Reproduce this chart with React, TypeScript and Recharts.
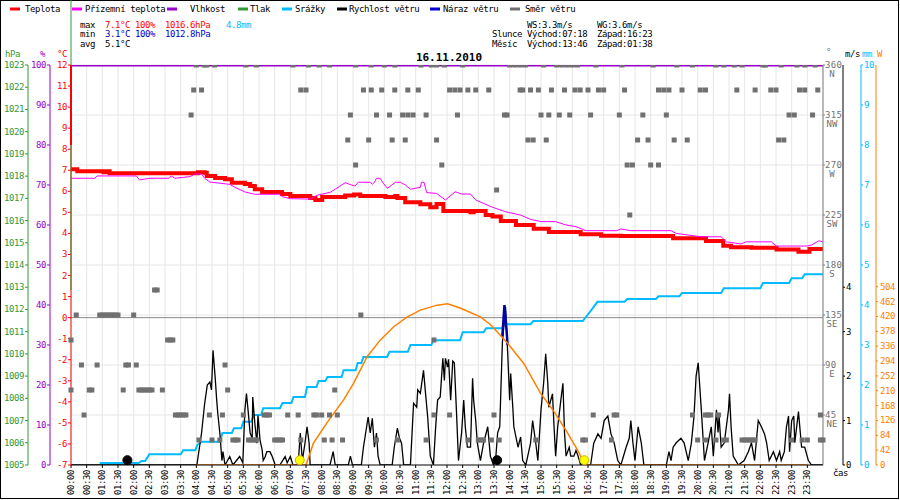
import {
  ComposedChart,
  Line,
  Scatter,
  XAxis,
  YAxis,
  CartesianGrid,
  ReferenceLine,
  ReferenceDot,
} from "recharts";

const FONT = "'DejaVu Sans Mono', monospace";

// all series: [minutes since 00:00, value]
const temperature: [number, number][] = [
  [0, 7.05], [12, 6.95], [62, 6.9], [68, 6.95], [74, 6.86], [243, 6.9], [256, 6.88],
  [260, 6.73], [276, 6.63], [295, 6.57], [308, 6.41], [333, 6.35], [343, 6.25],
  [352, 6.1], [366, 5.97], [404, 5.87], [420, 5.78], [458, 5.68], [468, 5.59],
  [481, 5.73], [525, 5.8], [542, 5.85], [554, 5.78], [602, 5.73], [621, 5.78],
  [625, 5.68], [640, 5.48], [669, 5.38], [688, 5.24], [700, 5.4], [713, 5.06],
  [765, 5.0], [771, 5.06], [794, 4.87], [807, 4.8], [823, 4.59], [852, 4.4],
  [886, 4.22], [915, 4.07], [976, 3.96], [1015, 3.89], [1053, 3.88], [1153, 3.77],
  [1216, 3.64], [1249, 3.42], [1264, 3.34], [1303, 3.32], [1351, 3.24], [1393, 3.13],
  [1414, 3.26], [1440, 3.26],
];

const apparent: [number, number][] = [
  [0, 6.62], [45, 6.62], [50, 6.73], [125, 6.73], [131, 6.54], [151, 6.62], [188, 6.62],
  [192, 6.73], [199, 6.62], [228, 6.7], [237, 6.82], [250, 6.82], [256, 6.62], [266, 6.44],
  [304, 6.33], [314, 6.19], [333, 5.97], [352, 5.86], [400, 5.86], [404, 5.75],
  [420, 5.65], [458, 5.63], [472, 5.82], [496, 5.95], [506, 6.1], [525, 6.41],
  [537, 6.3], [544, 6.25], [550, 6.43], [573, 6.43], [577, 6.33], [581, 6.43],
  [585, 6.62], [592, 6.62], [598, 6.38], [606, 6.14], [621, 6.43], [631, 6.43],
  [640, 6.3], [650, 6.1], [669, 6.19], [671, 6.43], [676, 6.43], [681, 5.94],
  [700, 5.9], [717, 5.59], [736, 5.98], [748, 5.87], [765, 5.87], [775, 5.59],
  [804, 5.27], [832, 5.03], [861, 4.87], [880, 4.67], [900, 4.56], [928, 4.56],
  [948, 4.4], [967, 4.32], [986, 4.13], [1045, 4.13], [1053, 4.21], [1072, 4.13],
  [1149, 4.13], [1159, 4.0], [1207, 3.84], [1245, 3.84], [1255, 3.6], [1283, 3.5],
  [1293, 3.6], [1341, 3.6], [1351, 3.4], [1409, 3.4], [1418, 3.45], [1432, 3.65],
  [1440, 3.6],
];

const humidity: [number, number][] = [
  [0, 100], [60, 100], [120, 100], [180, 100], [240, 100], [300, 100], [360, 100],
  [420, 100], [480, 100], [540, 100], [600, 100], [660, 100], [720, 100], [780, 100],
  [840, 100], [900, 100], [960, 100], [1020, 100], [1080, 100], [1140, 100], [1200, 100],
  [1260, 100], [1320, 100], [1380, 100], [1440, 100],
];

// cumulative rain, mm
const rain: [number, number][] = [
  [55, 0.05], [130, 0.05], [135, 0.1], [142, 0.1], [150, 0.27], [210, 0.27], [215, 0.37],
  [238, 0.37], [242, 0.5], [250, 0.58], [285, 0.58], [290, 0.8], [308, 0.8], [312, 0.92],
  [326, 0.92], [330, 1.08], [345, 1.08], [350, 1.25], [364, 1.25], [368, 1.42],
  [400, 1.42], [405, 1.55], [422, 1.55], [426, 1.7], [448, 1.7], [452, 1.95],
  [470, 1.95], [474, 2.1], [487, 2.1], [491, 2.2], [518, 2.2], [522, 2.37], [545, 2.37],
  [549, 2.55], [556, 2.55], [560, 2.7], [605, 2.7], [610, 2.83], [645, 2.83], [650, 3.0],
  [690, 3.0], [694, 3.12], [745, 3.12], [750, 3.32], [790, 3.32], [795, 3.42],
  [825, 3.42], [830, 3.52], [880, 3.52], [885, 3.6], [980, 3.6], [995, 3.85],
  [1008, 4.08], [1060, 4.08], [1065, 4.15], [1120, 4.15], [1125, 4.22], [1165, 4.22],
  [1170, 4.3], [1245, 4.3], [1250, 4.42], [1320, 4.42], [1325, 4.55], [1375, 4.55],
  [1380, 4.67], [1400, 4.67], [1405, 4.77], [1440, 4.77],
];

// wind speed, m/s
const wind: [number, number][] = [
  [0, 0], [241, 0], [250, 0.72], [256, 1.39], [261, 1.8], [266, 1.87], [269, 1.69],
  [272, 2.58], [276, 1.98], [279, 1.46], [281, 1.17], [285, 0.72], [289, 0.1], [291, 0.3],
  [295, 0], [304, 0.19], [310, 0], [323, 0.19], [329, 0.05], [333, 1.24], [336, 1.61],
  [339, 1.24], [343, 0.72], [347, 0.6], [348, 1.53], [352, 0.94], [356, 0.49],
  [358, 1.12], [362, 0.56], [366, 0.34], [368, 0.1], [372, 0.19], [375, 0.3],
  [381, 0.3], [385, 0.2], [391, 0], [400, 0], [410, 0.19], [414, 0.05], [420, 0.19],
  [425, 0], [435, 0], [439, 0.72], [443, 0.1], [448, 0.49], [452, 0.86], [456, 0.49],
  [458, 0], [496, 0], [502, 0.3], [506, 0], [531, 0], [535, 0.2], [539, 0], [556, 0],
  [560, 0.4], [569, 1.08], [573, 0.72], [577, 1.05], [581, 0.4], [585, 0.72],
  [588, 0.2], [592, 0], [615, 0], [619, 0.4], [625, 0.83], [629, 0.6], [633, 0.49],
  [637, 0], [650, 0], [656, 1.39], [662, 1.3], [664, 1.69], [669, 1.61], [675, 2.13],
  [679, 1.6], [683, 1.08], [688, 0.2], [694, 0], [698, 0.8], [702, 1.46], [707, 1.53],
  [712, 2.4], [715, 1.9], [717, 2.4], [721, 2.2], [723, 2.38], [727, 1.46], [731, 2.34],
  [734, 2.3], [738, 1.24], [742, 0.1], [748, 0.73], [752, 1.46], [755, 0.86],
  [759, 0.4], [765, 0.4], [769, 1.95], [771, 1.46], [775, 1.0], [778, 0.5], [784, 0.1],
  [790, 0.49], [798, 0.86], [803, 0.2], [809, 0], [813, 0.1], [817, 0.73], [821, 0.86],
  [826, 2.74], [832, 3.56], [836, 2.58], [840, 1.46], [842, 2.06], [846, 1.3],
  [848, 0.86], [856, 0.4], [861, 0.63], [865, 0.1], [871, 0], [880, 0.49], [884, 1.0],
  [890, 0.49], [894, 0.1], [900, 1.24], [905, 1.84], [909, 2.5], [913, 1.84],
  [915, 1.3], [922, 1.6], [925, 0.86], [928, 0.2], [932, 0.86], [938, 1.46],
  [942, 1.84], [945, 0.73], [948, 0.2], [954, 0.4], [957, 0.2], [963, 0.2], [967, 0.33],
  [971, 0.2], [976, 0], [995, 0], [1001, 0.49], [1009, 0.7], [1015, 0.6], [1021, 1.0],
  [1028, 1.1], [1034, 0.7], [1040, 0.5], [1047, 0.1], [1053, 0], [1063, 0.4],
  [1069, 0.6], [1072, 1.0], [1076, 0.5], [1080, 0.1], [1086, 0.86], [1092, 0.5],
  [1097, 0], [1140, 0], [1145, 0.3], [1149, 0.1], [1153, 0.4], [1159, 0.5],
  [1168, 0.6], [1174, 0.5], [1182, 0.1], [1188, 0.5], [1193, 1.1], [1197, 2.0],
  [1201, 2.3], [1207, 1.24], [1213, 0.1], [1220, 0.5], [1226, 0.86], [1230, 0.2],
  [1236, 1.24], [1239, 0.73], [1241, 1.1], [1245, 0.4], [1251, 0.5], [1259, 1.24],
  [1261, 1.6], [1264, 0.86], [1268, 0.2], [1278, 0], [1289, 0.1], [1297, 0.3],
  [1303, 0.5], [1309, 0.1], [1316, 1.0], [1322, 0.86], [1328, 0.7], [1332, 0.5],
  [1337, 0.1], [1345, 0.3], [1351, 0.1], [1357, 0.3], [1360, 0.1], [1366, 0.3],
  [1370, 0.86], [1374, 1.1], [1376, 0.3], [1380, 1.0], [1384, 1.1], [1386, 0.5],
  [1393, 1.2], [1399, 0.4], [1405, 0.4], [1412, 0.1], [1418, 0], [1440, 0],
];

const gust: [number, number][] = [
  [826, 2.9], [830, 3.6], [833, 3.2], [836, 2.7],
];

// sun radiation, W
const sun: [number, number][] = [
  [240, 0], [450, 0], [464, 61], [490, 119], [522, 184], [541, 231], [567, 306],
  [592, 353], [618, 391], [644, 419], [669, 438], [701, 452], [721, 456], [746, 443],
  [784, 419], [804, 396], [836, 344], [867, 287], [899, 203], [925, 151], [951, 90],
  [970, 42], [983, 5], [990, 0], [1410, 0],
];

// wind direction samples: minutes per compass point
const dirN = [240, 255, 260, 275, 335, 355, 425, 455, 475, 495, 545, 575, 600, 620, 670, 690, 700, 715, 750, 840, 850, 860, 870, 905, 930, 940, 950, 960, 970, 1005, 1055, 1115, 1160, 1190, 1235, 1250, 1270, 1285, 1325, 1330, 1360, 1390, 1405, 1425];
const dirNNW = [235, 250, 440, 450, 560, 575, 595, 620, 645, 665, 725, 735, 745, 760, 775, 800, 860, 865, 880, 895, 920, 945, 965, 975, 990, 1010, 1020, 1060, 1125, 1135, 1145, 1170, 1205, 1215, 1275, 1310, 1340, 1350, 1395, 1405, 1430];
const dirNW = [230, 535, 585, 610, 635, 645, 655, 680, 740, 830, 835, 900, 915, 935, 955, 995, 1050, 1095, 1140, 1375, 1385, 1420];
const dirWNW = [530, 570, 615, 640, 700, 875, 885, 910, 1085, 1105, 1155, 1180, 1355, 1365];
const dirW = [545, 710, 1065, 1075, 1110, 1125];
const dirWSW = [815];
const dirSW = [1070];
const dirSSE = [160, 165];
const dirSE = [10, 55, 60, 65, 70, 75, 80, 85, 90, 120, 555];
const dirESE = [0, 185, 190, 195, 695];
const dirE = [20, 50, 105, 110, 125, 295];
const dirENE = [0, 35, 40, 100, 130, 135, 140, 145, 150, 155, 175, 300, 505];
const dirNE = [25, 200, 205, 210, 215, 220, 265, 290, 330, 370, 375, 380, 415, 435, 465, 470, 480, 495, 510, 695, 725, 810, 1000, 1040, 1045, 1190, 1215, 1220, 1225, 1240, 1435];
const dirNNE = [245, 270, 285, 310, 315, 320, 340, 345, 350, 355, 390, 395, 400, 405, 440, 485, 500, 520, 585, 625, 680, 760, 780, 785, 790, 805, 820, 890, 980, 985, 1035, 1200, 1215, 1235, 1250, 1255, 1285, 1290, 1295, 1300, 1305, 1310, 1380, 1400, 1410, 1435, 1440];

const sunEvents = [438, 983]; // východ 07:18, západ 16:23
const moonEvents = [108, 816]; // západ 01:38, východ 13:46 (circles drawn beside the time mark)

const tempTicks = [-7, -6, -5, -4, -3, -2, -1, 0, 1, 2, 3, 4, 5, 6, 7, 8, 9, 10, 11, 12];
const humTicks = [0, 10, 20, 30, 40, 50, 60, 70, 80, 90, 100];
const presTicks = [1005, 1006, 1007, 1008, 1009, 1010, 1011, 1012, 1013, 1014, 1015, 1016, 1017, 1018, 1019, 1020, 1021, 1022, 1023];
const degTicks = [45, 90, 135, 180, 225, 270, 315, 360];
const msTicks = [0, 1, 2, 3, 4];
const mmTicks = [0, 1, 2, 3, 4, 5, 6, 7, 8, 9, 10];
const wTicks = [0, 42, 84, 126, 168, 210, 252, 294, 336, 378, 420, 462, 504];
const timeTicks = Array.from({ length: 48 }, (_, i) => i * 30);
const compass: Record<number, string> = { 45: "NE", 90: "E", 135: "SE", 180: "S", 225: "SW", 270: "W", 315: "NW", 360: "N" };

const TEMP_DOMAIN = [-7, 12];
const HUM_DOMAIN = [0, 100];
const PRES_DOMAIN = [1005, 1023];
const DEG_DOMAIN = [0, 360];
const MS_DOMAIN = [0, 9];
const MM_DOMAIN = [0, 10];
const W_DOMAIN = [0, 1131];

const pts = (arr: [number, number][]) => arr.map(([t, v]) => ({ t, v }));
const dirPts = (times: number[], deg: number) => times.map((t) => ({ t, v: deg }));

const directionData = [
  ...dirPts(dirN, 360), ...dirPts(dirNNW, 337.5), ...dirPts(dirNW, 315), ...dirPts(dirWNW, 292.5),
  ...dirPts(dirW, 270), ...dirPts(dirWSW, 247.5), ...dirPts(dirSW, 225), ...dirPts(dirSSE, 157.5),
  ...dirPts(dirSE, 135), ...dirPts(dirESE, 112.5), ...dirPts(dirE, 90), ...dirPts(dirENE, 67.5),
  ...dirPts(dirNE, 45), ...dirPts(dirNNE, 22.5),
];

const hhmm = (m: number) =>
  `${String(Math.floor(m / 60)).padStart(2, "0")}:${String(m % 60).padStart(2, "0")}`;

function TimeTick(props: any) {
  const { x, y, payload } = props;
  return (
    <text
      x={x + 3}
      y={y}
      transform={`rotate(-90 ${x + 3} ${y})`}
      textAnchor="end"
      fontSize={9}
      fontFamily={FONT}
      letterSpacing={-0.4}
      fill="#000"
    >
      {hhmm(payload.value)}
    </text>
  );
}

// plain value tick; left axes end at the tick, right axes start after it
const valueTick = (color: string, side: "left" | "right") =>
  function ValueTick(props: any) {
    const { x, y, payload } = props;
    return (
      <text
        x={x}
        y={y + 3}
        textAnchor={side === "left" ? "end" : "start"}
        fontSize={9}
        fontFamily={FONT}
        letterSpacing={-0.4}
        fill={color}
      >
        {payload.value}
      </text>
    );
  };

const TempTick = valueTick("#ff0000", "left");

function DegTick(props: any) {
  const { x, y, payload } = props;
  return (
    <g>
      <text x={x - 2} y={y + 3} fontSize={9} fontFamily={FONT} fill="#707070" letterSpacing={0.3}>
        {payload.value}
      </text>
      <text x={x + 5} y={y + 12} fontSize={9} fontFamily={FONT} fill="#707070" textAnchor="middle">
        {compass[payload.value]}
      </text>
    </g>
  );
}

const Square = (props: any) => (
  <rect x={props.cx - 2.5} y={props.cy - 2.5} width={5} height={5} fill="#707070" />
);

const legend = [
  { label: "Teplota", color: "#ff0000", dash: 10, x: 25 },
  { label: "Přízemní teplota", color: "#ff00ff", dash: 72, x: 85 },
  { label: "Vlhkost", color: "#9900cc", dash: 167, x: 190 },
  { label: "Tlak", color: "#339933", dash: 238, x: 250 },
  { label: "Srážky", color: "#00bbff", dash: 282, x: 295 },
  { label: "Rychlost větru", color: "#000000", dash: 337, x: 349 },
  { label: "Náraz větru", color: "#0000cc", dash: 430, x: 443 },
  { label: "Směr větru", color: "#707070", dash: 510, x: 525 },
];

const txt = { fontSize: 9, fontFamily: FONT, letterSpacing: -0.4 } as const;
const layer = { position: "absolute", left: 0, top: 0, pointerEvents: "none" } as const;

type AxisSpec = {
  id: string;
  width: number;
  margin: number;
  domain: number[];
  ticks: number[];
  color: string;
  data: [number, number][];
};

// Recharts stacks several y axes on one side in its own order, so the extra
// scales are drawn by transparent charts laid over the main one; each holds one
// axis per side, placed by its margin, over the same 65..465 vertical range.
// The invisible line only gives the layer something to lay its axis out for.
function AxisLayer({ left, right }: { left?: AxisSpec; right?: AxisSpec }) {
  return (
    <div style={layer}>
      <ComposedChart
        width={900}
        height={500}
        margin={{ top: 65, bottom: 35, left: left ? left.margin : 0, right: right ? right.margin : 0 }}
      >
        <XAxis dataKey="t" type="number" domain={[0, 1440]} hide height={0} />
        {left && (
          <YAxis yAxisId={left.id} orientation="left" width={left.width} domain={left.domain} ticks={left.ticks}
            interval={0} stroke={left.color} tickSize={3} tickMargin={1} tick={valueTick(left.color, "left")} allowDataOverflow />
        )}
        {right && (
          <YAxis yAxisId={right.id} orientation="right" width={right.width} domain={right.domain} ticks={right.ticks}
            interval={0} stroke={right.color} tickSize={2} tickMargin={right.id === "w" ? 2 : 1} tick={valueTick(right.color, "right")} allowDataOverflow />
        )}
        {left && (
          <Line yAxisId={left.id} data={pts(left.data)} dataKey="v" stroke="none" dot={false} isAnimationActive={false} />
        )}
        {right && (
          <Line yAxisId={right.id} data={pts(right.data)} dataKey="v" stroke="none" dot={false} isAnimationActive={false} />
        )}
      </ComposedChart>
    </div>
  );
}

export default function App() {
  return (
    <div style={{ position: "absolute", left: 0, top: 0, width: 900, height: 500, background: "#fff" }}>
      <ComposedChart width={900} height={500} margin={{ top: 65, right: 57, bottom: 0, left: 50 }}>
        <CartesianGrid horizontal={false} stroke="#e6e6e6" />
        <XAxis
          dataKey="t"
          type="number"
          domain={[0, 1440]}
          ticks={timeTicks}
          interval={0}
          height={35}
          tickSize={3}
          tickMargin={2}
          stroke="#000"
          tick={TimeTick}
        />
        <YAxis yAxisId="temp" orientation="left" width={21} domain={TEMP_DOMAIN} ticks={tempTicks} interval={0}
          stroke="#ff0000" tickSize={3} tickMargin={1} tick={TempTick} allowDataOverflow />
        <YAxis yAxisId="deg" orientation="right" width={20} domain={DEG_DOMAIN} ticks={degTicks} interval={0}
          stroke="#808080" tickSize={2} tickMargin={2} tick={DegTick} allowDataOverflow />
        <YAxis yAxisId="hum" hide width={0} domain={HUM_DOMAIN} allowDataOverflow />
        <YAxis yAxisId="ms" hide width={0} orientation="right" domain={MS_DOMAIN} allowDataOverflow />
        <YAxis yAxisId="mm" hide width={0} orientation="right" domain={MM_DOMAIN} allowDataOverflow />
        <YAxis yAxisId="w" hide width={0} orientation="right" domain={W_DOMAIN} allowDataOverflow />

        {degTicks.map((d) => (
          <ReferenceLine key={d} yAxisId="deg" y={d} stroke="#e6e6e6" />
        ))}
        <ReferenceLine yAxisId="temp" y={0} stroke="#8a8a8a" />

        <Line yAxisId="hum" data={pts(humidity)} dataKey="v" stroke="#9900cc" strokeWidth={3} dot={false} isAnimationActive={false} />
        <Scatter yAxisId="deg" data={directionData} dataKey="v" shape={Square} isAnimationActive={false} />
        <Line yAxisId="temp" data={pts(temperature)} dataKey="v" type="stepAfter" stroke="#ff0000" strokeWidth={4} dot={false} isAnimationActive={false} />
        <Line yAxisId="temp" data={pts(apparent)} dataKey="v" stroke="#ff00ff" strokeWidth={1} dot={false} isAnimationActive={false} />
        <Line yAxisId="mm" data={pts(rain)} dataKey="v" stroke="#00bbff" strokeWidth={2} dot={false} isAnimationActive={false} />
        <Line yAxisId="ms" data={pts(wind)} dataKey="v" stroke="#000" strokeWidth={1.3} dot={false} isAnimationActive={false} />
        <Line yAxisId="ms" data={pts(gust)} dataKey="v" stroke="#0000aa" strokeWidth={2.5} dot={false} isAnimationActive={false} />
        <Line yAxisId="w" data={pts(sun)} dataKey="v" stroke="#ff8000" strokeWidth={1.5} dot={false} isAnimationActive={false} />

        {sunEvents.map((t) => (
          <ReferenceDot key={"s" + t} yAxisId="temp" x={t} y={-6.77} r={4.5} fill="#ffff00" stroke="#c8b400" />
        ))}
        {moonEvents.map((t) => (
          <ReferenceDot key={"m" + t} yAxisId="temp" x={t} y={-6.77} r={4.5} fill="#000" stroke="#000" />
        ))}
      </ComposedChart>

      <AxisLayer
        left={{ id: "hum", width: 50, margin: 0, domain: HUM_DOMAIN, ticks: humTicks, color: "#9900cc", data: humidity }}
        right={{ id: "ms", width: 18, margin: 39, domain: MS_DOMAIN, ticks: msTicks, color: "#000000", data: wind }}
      />
      <AxisLayer
        left={{ id: "pres", width: 28, margin: 0, domain: PRES_DOMAIN, ticks: presTicks, color: "#339933", data: [] }}
        right={{ id: "mm", width: 15, margin: 24, domain: MM_DOMAIN, ticks: mmTicks, color: "#00bbff", data: rain }}
      />
      <AxisLayer
        right={{ id: "w", width: 24, margin: 0, domain: W_DOMAIN, ticks: wTicks, color: "#ff8000", data: sun }}
      />

      <svg width={900} height={500} style={layer}>
        <rect x={0.5} y={0.5} width={898} height={498} fill="none" stroke="#000" />
        <line x1={71} y1={0} x2={71} y2={290} stroke="#339933" />
        <line x1={71} y1={65} x2={71} y2={145} stroke="#ff0000" strokeWidth={2} />

        {legend.map((l) => (
          <g key={l.label}>
            <line x1={l.dash} y1={9} x2={l.dash + 10} y2={9} stroke={l.color} strokeWidth={3} />
            <text x={l.x} y={12} {...txt} fill="#000">{l.label}</text>
          </g>
        ))}

        <text x={80} y={28} {...txt} fill="#000">max</text>
        <text x={105} y={28} {...txt} fill="#ff0000">7.1°C</text>
        <text x={135} y={28} {...txt} fill="#ff0000">100%</text>
        <text x={165} y={28} {...txt} fill="#ff0000">1016.6hPa</text>
        <text x={226} y={28} {...txt} fill="#00bbff">4.8mm</text>
        <text x={80} y={37} {...txt} fill="#000">min</text>
        <text x={105} y={37} {...txt} fill="#0000cc">3.1°C</text>
        <text x={135} y={37} {...txt} fill="#0000cc">100%</text>
        <text x={165} y={37} {...txt} fill="#0000cc">1012.8hPa</text>
        <text x={80} y={47} {...txt} fill="#000">avg</text>
        <text x={105} y={47} {...txt} fill="#000">5.1°C</text>

        <text x={527} y={28} {...txt} fill="#000">WS:3.3m/s</text>
        <text x={597} y={28} {...txt} fill="#000">WG:3.6m/s</text>
        <text x={492} y={37} {...txt} fill="#000">Slunce</text>
        <text x={527} y={37} {...txt} fill="#000">Východ:07:18</text>
        <text x={597} y={37} {...txt} fill="#000">Západ:16:23</text>
        <text x={492} y={47} {...txt} fill="#000">Měsíc</text>
        <text x={527} y={47} {...txt} fill="#000">Východ:13:46</text>
        <text x={597} y={47} {...txt} fill="#000">Západ:01:38</text>

        <text x={449} y={61} textAnchor="middle" fontSize={11} fontWeight="bold" fontFamily={FONT} fill="#000">16.11.2010</text>

        <text x={5} y={57} {...txt} fill="#339933">hPa</text>
        <text x={40} y={57} {...txt} fill="#9900cc">%</text>
        <text x={57} y={57} {...txt} fill="#ff0000">°C</text>
        <text x={826} y={55} {...txt} fill="#707070">°</text>
        <text x={845} y={57} {...txt} fill="#000">m/s</text>
        <text x={862} y={57} {...txt} fill="#00bbff">mm</text>
        <text x={877} y={57} {...txt} fill="#ff8000">W</text>
        <text x={833} y={476} {...txt} fill="#000">čas</text>
      </svg>
    </div>
  );
}
